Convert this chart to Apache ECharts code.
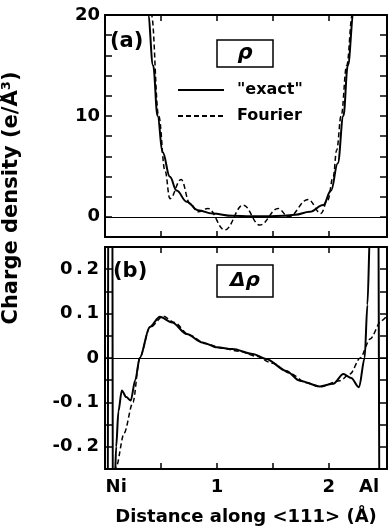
<!DOCTYPE html>
<html>
<head>
<meta charset="utf-8">
<script src="https://cdn.jsdelivr.net/npm/echarts@6/dist/echarts.min.js"></script>
<style>
  html, body { margin: 0; padding: 0; background: #fff; }
  #chart { width: 388px; height: 527px; }
</style>
</head>
<body>
<div id="chart"></div>
<script>
// (a) total charge density rho, e/A^3
const rhoExactX = [0.30, 0.385, 0.43, 0.47, 0.515, 0.58, 0.64, 0.73, 0.83, 0.96, 1.14, 1.3, 1.45, 1.6, 1.7, 1.83, 1.95, 2.02, 2.08, 2.13, 2.17, 2.22, 2.3]
const rhoExact = [40, 20, 15, 10, 6.4, 3.96, 2.6, 1.5, 0.66, 0.33, 0.1, 0.05, 0.05, 0.1, 0.2, 0.5, 1.16, 2.6, 5.3, 10, 15, 20, 40]
const rhoFourierX = [0.33, 0.415, 0.48, 0.536, 0.58, 0.68, 0.76, 0.83, 0.92, 1.07, 1.235, 1.384, 1.547, 1.64, 1.815, 1.93, 1.99, 2.04, 2.07, 2.11, 2.16, 2.21, 2.28]
const rhoFourier = [40, 20, 10, 4.6, 1.8, 3.7, 1.3, 0.5, 0.83, -1.3, 1.16, -0.82, 0.83, 0.0, 1.72, 0.34, 1.65, 4.0, 6.6, 10, 15, 20, 40]

// (b) difference density delta rho
const dRhoExactX = [0.0, 0.024, 0.030, 0.065, 0.071, 0.085, 0.1, 0.12, 0.15, 0.19, 0.23, 0.27, 0.31, 0.4, 0.49, 0.6, 0.73, 0.87, 1.0, 1.14, 1.32, 1.44, 1.62, 1.74, 1.92, 2.04, 2.13, 2.2, 2.27, 2.32, 2.345, 2.37, 2.44, 2.455, 2.52]
const dRhoExact = [-0.5, -0.5, 0.5, 0.5, -0.5, -0.3, -0.2, -0.12, -0.073, -0.088, -0.096, -0.05, 0.0, 0.07, 0.093, 0.08, 0.054, 0.035, 0.024, 0.02, 0.009, -0.002, -0.029, -0.051, -0.064, -0.058, -0.036, -0.045, -0.066, 0.0, 0.12, 0.3, 0.5, -0.5, -0.5]
const dRhoFourierX = [0.07, 0.1, 0.17, 0.25, 0.31, 0.4, 0.52, 0.62, 0.75, 0.9, 1.05, 1.2, 1.35, 1.5, 1.65, 1.8, 1.92, 2.1, 2.19, 2.28, 2.37, 2.47, 2.52]
const dRhoFourier = [-0.4, -0.245, -0.17, -0.1, 0.0, 0.068, 0.094, 0.08, 0.052, 0.032, 0.022, 0.015, 0.004, -0.012, -0.034, -0.056, -0.065, -0.051, -0.036, 0.0, 0.043, 0.084, 0.095]

// tick labels
const xLabelPos = [0.1, 1, 2, 2.36]
const xLabelText = ['Ni', '1', '2', 'Al']
const xTickPos = [0.5, 1, 1.5, 2]
const topYLabelPos = [0, 10, 20]
const bottomYLabelPos = [-0.2, -0.1, 0, 0.1, 0.2]
const bottomYLabelText = ['-0\u2009.\u20092', '-0\u2009.\u20091', '0', '0\u2009.\u20091', '0\u2009.\u20092']

const FONT = 'DejaVu Sans'
const pairs = (xs, ys) => xs.map((x, i) => [x, ys[i]])

const chart = echarts.init(document.getElementById('chart'))

const frameX = (gridIndex, position, extra) => Object.assign({
  type: 'value', gridIndex, position, min: 0, max: 2.52,
  axisLine: { show: true, onZero: false, lineStyle: { color: '#000', width: 2 } },
  axisTick: { show: true, inside: true, length: 6, customValues: xTickPos, lineStyle: { color: '#000', width: 1.5 } },
  axisLabel: { show: false },
  splitLine: { show: false }
}, extra)

const frameY = (gridIndex, position, min, max, interval, extra) => Object.assign({
  type: 'value', gridIndex, position, min, max, interval,
  axisLine: { show: true, onZero: false, lineStyle: { color: '#000', width: 2 } },
  axisTick: { show: true, inside: true, length: 7, lineStyle: { color: '#000', width: 1.5 } },
  axisLabel: { show: false },
  splitLine: { show: false }
}, extra)

const labelStyle = { color: '#000', fontFamily: FONT, fontWeight: 'bold', fontSize: 18 }

const zeroLine = {
  silent: true, symbol: 'none', label: { show: false },
  lineStyle: { color: '#000', width: 1, type: 'solid' },
  data: [{ yAxis: 0 }]
}

chart.setOption({
  animation: false,
  backgroundColor: '#fff',
  grid: [
    { left: 105, top: 15, width: 282, height: 222 },
    { left: 105, top: 247, width: 282, height: 224 }
  ],
  xAxis: [
    frameX(0, 'bottom'),
    frameX(0, 'top'),
    frameX(1, 'bottom', {
      axisLabel: Object.assign({
        show: true, margin: 9, customValues: xLabelPos,
        formatter: (v) => xLabelText[xLabelPos.findIndex((p) => Math.abs(p - v) < 1e-6)] || ''
      }, labelStyle),
      name: 'Distance along <111> (Å)',
      nameLocation: 'middle',
      nameGap: 39,
      nameTextStyle: labelStyle
    }),
    frameX(1, 'top')
  ],
  yAxis: [
    frameY(0, 'left', -2, 20, 2, {
      axisLabel: Object.assign({ show: true, margin: 5, customValues: topYLabelPos, formatter: (v) => String(v) }, labelStyle)
    }),
    frameY(0, 'right', -2, 20, 2),
    frameY(1, 'left', -0.25, 0.25, 0.05, {
      axisLabel: Object.assign({
        show: true, margin: 6, customValues: bottomYLabelPos,
        formatter: (v) => bottomYLabelText[bottomYLabelPos.findIndex((p) => Math.abs(p - v) < 1e-6)] || ''
      }, labelStyle)
    }),
    frameY(1, 'right', -0.25, 0.25, 0.05)
  ],
  legend: {
    orient: 'vertical',
    left: 172,
    top: 77,
    itemWidth: 46,
    itemHeight: 14,
    itemGap: 10,
    selectedMode: false,
    itemStyle: { opacity: 0 },
    data: ['"exact"', 'Fourier'],
    textStyle: Object.assign({ padding: [0, 0, 0, 8] }, labelStyle, { fontSize: 16 })
  },
  graphic: [
    { type: 'text', left: 110, top: 31, style: { text: '(a)', font: 'bold 21px "DejaVu Sans"', fill: '#000' } },
    { type: 'text', left: 113, top: 261, style: { text: '(b)', font: 'bold 21px "DejaVu Sans"', fill: '#000' } },
    { type: 'rect', shape: { x: 217, y: 40, width: 56, height: 27 }, style: { fill: '#fff', stroke: '#000', lineWidth: 1.5 } },
    { type: 'text', x: 245, y: 54, style: { text: 'ρ', font: 'italic bold 21px "DejaVu Sans"', fill: '#000', align: 'center', verticalAlign: 'middle' } },
    { type: 'rect', shape: { x: 217, y: 265, width: 56, height: 32 }, style: { fill: '#fff', stroke: '#000', lineWidth: 1.5 } },
    { type: 'text', x: 245, y: 281, style: { text: 'Δρ', font: 'italic bold 20px "DejaVu Sans"', fill: '#000', align: 'center', verticalAlign: 'middle' } },
    { type: 'text', x: 12, y: 198, rotation: Math.PI / 2, style: { text: 'Charge density (e/Å³)', font: 'bold 21px "DejaVu Sans"', fill: '#000', align: 'center', verticalAlign: 'middle' } }
  ],
  series: [
    {
      name: '"exact"', type: 'line', xAxisIndex: 0, yAxisIndex: 0,
      data: pairs(rhoExactX, rhoExact), smooth: 0.4, smoothMonotone: 'x', symbol: 'none',
      lineStyle: { color: '#000', width: 2 }, itemStyle: { color: '#000' },
      markLine: zeroLine
    },
    {
      name: 'Fourier', type: 'line', xAxisIndex: 0, yAxisIndex: 0,
      data: pairs(rhoFourierX, rhoFourier), smooth: 0.4, smoothMonotone: 'x', symbol: 'none',
      lineStyle: { color: '#000', width: 1.5, type: [5, 3] }, itemStyle: { color: '#000' }
    },
    {
      name: '"exact"', type: 'line', xAxisIndex: 2, yAxisIndex: 2,
      data: pairs(dRhoExactX, dRhoExact), smooth: 0.3, smoothMonotone: 'x', symbol: 'none',
      lineStyle: { color: '#000', width: 2 }, itemStyle: { color: '#000' },
      markLine: zeroLine
    },
    {
      name: 'Fourier', type: 'line', xAxisIndex: 2, yAxisIndex: 2,
      data: pairs(dRhoFourierX, dRhoFourier), smooth: 0.3, smoothMonotone: 'x', symbol: 'none',
      lineStyle: { color: '#000', width: 1.5, type: [5, 3] }, itemStyle: { color: '#000' }
    }
  ]
})
</script>
</body>
</html>
